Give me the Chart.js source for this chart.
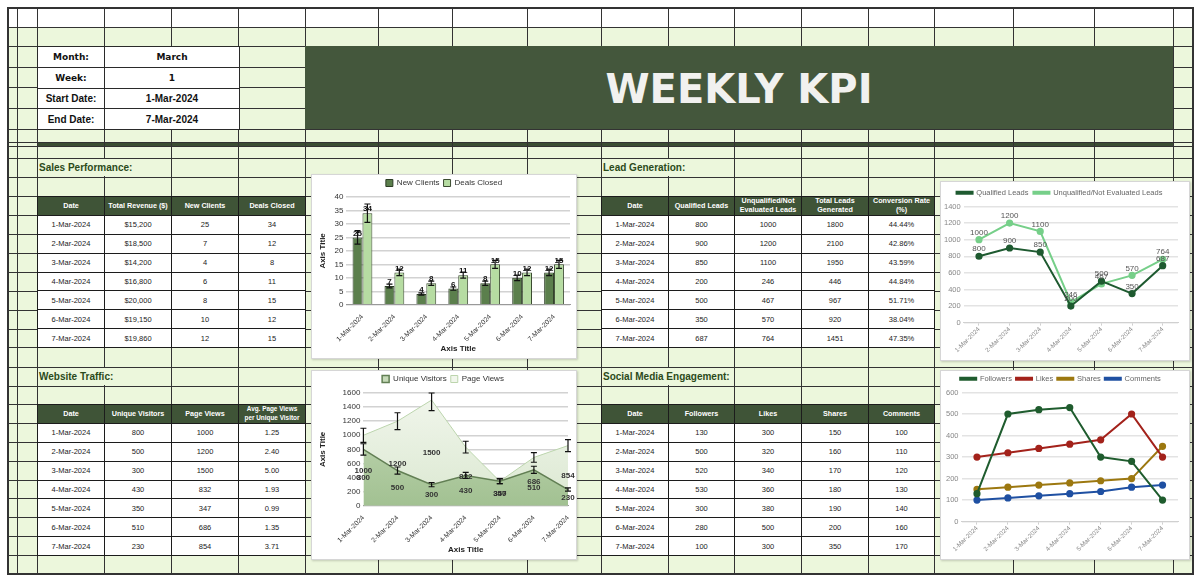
<!DOCTYPE html>
<html>
<head>
<meta charset="utf-8">
<script src="https://cdn.jsdelivr.net/npm/chart.js@4.4.1/dist/chart.umd.min.js"></script>
<style>
body { margin:0; background:#fff; font-family:"Liberation Sans", Arial, sans-serif; }
#sheet { position:absolute; left:0; top:0; width:1200px; height:582px; overflow:hidden; }
.ln { position:absolute; background:#333; }
.sect { position:absolute; background:#ecf7dc; color:#2b4a1a; font-weight:bold; font-size:10px; line-height:17px; padding-left:1px; white-space:nowrap; }
table.kpi { position:absolute; border-collapse:collapse; table-layout:fixed; }
table.kpi td { border:1.5px solid #1c1c1c; background:#fff; text-align:center; padding:0; font-size:7.5px; color:#222; height:17px; }
table.kpi th { border:1.5px solid #1c1c1c; background:#3f5437; color:#fff; text-align:center; padding:0; font-size:7.2px; font-weight:bold; height:17px; line-height:8.5px; }
table.info { position:absolute; border-collapse:collapse; table-layout:fixed; }
table.info td { border:1.5px solid #2a2a2a; background:#fff; text-align:center; padding:0; height:19px; font-size:10px; font-weight:bold; color:#111; }
td.heavy { font-family:"DejaVu Sans", sans-serif; font-size:9px !important; }
.chartbox { position:absolute; background:#fff; border:1px solid #d6d6d6; box-shadow:1px 1px 2px rgba(0,0,0,0.18); }
.chartbox canvas { position:absolute; left:0; top:0; }
#banner { position:absolute; left:305px; top:46px; width:868px; height:83px; background:#44573c; color:#f1f1ef; font-family:"DejaVu Sans", sans-serif; font-weight:bold; font-size:40px; text-align:center; line-height:87px; }
</style>
</head>
<body>
<div id="sheet">
  <div id="grid"></div>
  <div id="banner">WEEKLY KPI</div>
  <div class="sect" style="left:38px;top:159px;width:132px;height:17px;">Sales Performance:</div>
  <div class="sect" style="left:602px;top:159px;width:131px;height:17px;">Lead Generation:</div>
  <div class="sect" style="left:38px;top:368px;width:132px;height:17px;">Website Traffic:</div>
  <div class="sect" style="left:602px;top:368px;width:131px;height:17px;">Social Media Engagement:</div>
  <div id="tables"></div>
  <div class="chartbox" style="left:311px;top:174px;width:264px;height:183px;"><canvas id="salesChart" width="264" height="183"></canvas></div>
  <div class="chartbox" style="left:311px;top:370px;width:264px;height:188px;"><canvas id="trafficChart" width="264" height="188"></canvas></div>
  <div class="chartbox" style="left:940px;top:181px;width:248px;height:178px;"><canvas id="leadChart" width="248" height="178"></canvas></div>
  <div class="chartbox" style="left:940px;top:370px;width:248px;height:188px;"><canvas id="socialChart" width="248" height="188"></canvas></div>
</div>

<script>
// data
const dates = ["1-Mar-2024", "2-Mar-2024", "3-Mar-2024", "4-Mar-2024", "5-Mar-2024", "6-Mar-2024", "7-Mar-2024"];
const revenue = ["$15,200", "$18,500", "$14,200", "$16,800", "$20,000", "$19,150", "$19,860"];
const newClients = [25, 7, 4, 6, 8, 10, 12];
const dealsClosed = [34, 12, 8, 11, 15, 12, 15];
const qualifiedLeads = [800, 900, 850, 200, 500, 350, 687];
const unqualifiedLeads = [1000, 1200, 1100, 246, 467, 570, 764];
const totalLeads = [1800, 2100, 1950, 446, 967, 920, 1451];
const convRate = ["44.44%", "42.86%", "43.59%", "44.84%", "51.71%", "38.04%", "47.35%"];
const uniqueVisitors = [800, 500, 300, 430, 350, 510, 230];
const pageViews = [1000, 1200, 1500, 832, 347, 686, 854];
const avgViews = ["1.25", "2.40", "5.00", "1.93", "0.99", "1.35", "3.71"];
const followers = [130, 500, 520, 530, 300, 280, 100];
const likes = [300, 320, 340, 360, 380, 500, 300];
const shares = [150, 160, 170, 180, 190, 200, 350];
const comments = [100, 110, 120, 130, 140, 160, 170];

// sheet layout (pixel edges of the cells)
const colX = [7, 17, 37, 104, 171, 238, 305, 378, 452, 527, 601, 668, 734, 801, 868, 934, 1013, 1094, 1173, 1192];
const rowY = [7, 27, 46, 67, 87, 108, 129, 142, 146, 158, 177, 196, 215, 234, 253, 272, 291, 310, 329, 347, 367, 386, 404, 423, 442, 461, 480, 498, 517, 536, 555, 573];

function el(tag, css, html) {
    var d = document.createElement(tag);
    if (css) d.style.cssText = css;
    if (html !== undefined) d.innerHTML = html;
    return d;
}

//draw the spreadsheet grid
var grid = document.getElementById("grid");
var L = colX[0], R = colX[colX.length - 1], T = rowY[0], B = rowY[rowY.length - 1];
grid.appendChild(el("div", `position:absolute;left:${L}px;top:${rowY[1]}px;width:${R - L}px;height:${B - rowY[1]}px;background:#ecf7dc;`));
grid.appendChild(el("div", `position:absolute;left:${colX[2]}px;top:${rowY[7]}px;width:${colX[18] - colX[2]}px;height:${rowY[8] - rowY[7]}px;background:#3b4d33;`));
rowY.forEach((y, i) => {
    var w = (i == 0 || i == rowY.length - 1) ? 2 : 1;
    grid.appendChild(el("div", `left:${L}px;top:${y}px;width:${R - L + 1}px;height:${w}px;`)).className = "ln";
});
colX.forEach((x, i) => {
    var w = (i == 0 || i == colX.length - 1) ? 2 : 1;
    grid.appendChild(el("div", `left:${x}px;top:${T}px;width:${w}px;height:${B - T + 2}px;`)).className = "ln";
});

// info box + tables
var tables = document.getElementById("tables");
var info = el("table", "left:37px;top:46px;width:202px;height:84px;");
info.className = "info";
info.innerHTML = `<colgroup><col style="width:67px"><col style="width:135px"></colgroup>
<tr><td class="heavy">Month:</td><td class="heavy">March</td></tr>
<tr><td class="heavy">Week:</td><td class="heavy">1</td></tr>
<tr><td>Start Date:</td><td>${dates[0]}</td></tr>
<tr><td>End Date:</td><td>${dates[6]}</td></tr>`;
tables.appendChild(info);

function makeTable(left, top, widths, headers, cols) {
    var t = el("table", `left:${left}px;top:${top}px;width:${widths.reduce((a, b) => a + b, 0) + 1}px;height:152px;`);
    t.className = "kpi";
    var h = "<colgroup>" + widths.map(w => `<col style="width:${w}px">`).join("") + "</colgroup>";
    h += "<tr>" + headers.map(x => `<th>${x}</th>`).join("") + "</tr>";
    for (var i = 0; i < dates.length; i++) {
        h += "<tr>" + cols.map(c => `<td>${c[i]}</td>`).join("") + "</tr>";
    }
    t.innerHTML = h;
    tables.appendChild(t);
}
makeTable(37, 196, [67, 67, 67, 67], ["Date", "Total Revenue ($)", "New Clients", "Deals Closed"], [dates, revenue, newClients, dealsClosed]);
makeTable(601, 196, [67, 66, 67, 67, 66], ["Date", "Qualified Leads", "Unqualified/Not<br>Evaluated Leads", "Total Leads<br>Generated", "Conversion Rate<br>(%)"], [dates, qualifiedLeads, unqualifiedLeads, totalLeads, convRate]);
makeTable(37, 404, [67, 67, 67, 67], ["Date", "Unique Visitors", "Page Views", "<span style='font-size:6.4px'>Avg. Page Views<br>per Unique Visitor</span>"], [dates, uniqueVisitors, pageViews, avgViews]);
makeTable(601, 404, [67, 66, 67, 67, 66], ["Date", "Followers", "Likes", "Shares", "Comments"], [dates, followers, likes, shares, comments]);

// charts
Chart.defaults.font.family = '"Liberation Sans", Arial, sans-serif';
Chart.defaults.animation = false;

// little error bars, +/- pct of the value
const errBars = {
    id: "errBars",
    afterDatasetsDraw(chart, args, opts) {
        if (!opts.pct) return;
        const ctx = chart.ctx, ys = chart.scales.y, area = chart.chartArea;
        ctx.save();
        ctx.strokeStyle = "#111";
        ctx.lineWidth = 1.2;
        chart.data.datasets.forEach((ds, di) => {
            chart.getDatasetMeta(di).data.forEach((p, i) => {
                const v = ds.data[i];
                const top = Math.max(area.top, ys.getPixelForValue(v * (1 + opts.pct)));
                const bot = ys.getPixelForValue(v * (1 - opts.pct));
                ctx.beginPath();
                ctx.moveTo(p.x, top); ctx.lineTo(p.x, bot);
                ctx.moveTo(p.x - 3, top); ctx.lineTo(p.x + 3, top);
                ctx.moveTo(p.x - 3, bot); ctx.lineTo(p.x + 3, bot);
                ctx.stroke();
            });
        });
        ctx.restore();
    }
};

// value labels (top of bar/point, or middle of the area)
const valLabels = {
    id: "valLabels",
    afterDatasetsDraw(chart, args, opts) {
        if (!opts.mode) return;
        const ctx = chart.ctx, ys = chart.scales.y;
        ctx.save();
        ctx.font = opts.font;
        ctx.fillStyle = opts.color;
        ctx.textAlign = "center";
        chart.data.datasets.forEach((ds, di) => {
            chart.getDatasetMeta(di).data.forEach((p, i) => {
                const v = ds.data[i];
                if (opts.mode == "mid") {
                    ctx.textBaseline = "middle";
                    ctx.fillText(v, p.x, ys.getPixelForValue(v / 2));
                } else {
                    ctx.textBaseline = "bottom";
                    ctx.fillText(v, p.x, p.y - opts.gap);
                }
            });
        });
        ctx.restore();
    }
};

const axisTitle = { display: true, text: "Axis Title", color: "#222", font: { size: 8, weight: "bold" } };
const plain = v => v;

new Chart(document.getElementById("salesChart"), {
    type: "bar",
    data: {
        labels: dates,
        datasets: [
            { label: "New Clients", data: newClients, backgroundColor: "#5b7f4c", borderColor: "#2c3c25", borderWidth: 1 },
            { label: "Deals Closed", data: dealsClosed, backgroundColor: "#b6dca2", borderColor: "#3b4b31", borderWidth: 1 }
        ]
    },
    plugins: [valLabels, errBars],
    options: {
        responsive: false, devicePixelRatio: 1,
        categoryPercentage: 0.62, barPercentage: 1,
        layout: { padding: { left: 6, right: 6, top: 0, bottom: 4 } },
        plugins: {
            legend: { labels: { boxWidth: 7, boxHeight: 7, padding: 4, font: { size: 8 }, color: "#333" } },
            tooltip: { enabled: false },
            valLabels: { mode: "top", gap: 0, font: 'bold 8px "Liberation Sans"', color: "#111" },
            errBars: { pct: 0.1 }
        },
        scales: {
            x: {
                grid: { display: false }, border: { color: "#999" },
                ticks: { minRotation: 45, maxRotation: 45, padding: 0, font: { size: 6.8 }, color: "#333" },
                title: Object.assign({ padding: { top: 1, bottom: 0 } }, axisTitle)
            },
            y: {
                min: 0, max: 40,
                ticks: { stepSize: 5, font: { size: 8 }, color: "#333", padding: 3, callback: plain },
                grid: { color: "#d2d2d2", lineWidth: 1.5, drawTicks: false },
                border: { display: false },
                title: Object.assign({ padding: { top: 0, bottom: 4 } }, axisTitle)
            }
        }
    }
});

function vGrad(c, top, bottom) {
    const a = c.chart.chartArea;
    if (!a) return bottom;
    const g = c.chart.ctx.createLinearGradient(0, a.top, 0, a.bottom);
    g.addColorStop(0, top);
    g.addColorStop(1, bottom);
    return g;
}

new Chart(document.getElementById("trafficChart"), {
    type: "line",
    data: {
        labels: dates,
        datasets: [
            { label: "Unique Visitors", data: uniqueVisitors, fill: "origin", borderColor: "#627f54", borderWidth: 1.5, pointRadius: 0,
              backgroundColor: c => vGrad(c, "#c6dab8", "#a2c192") },
            { label: "Page Views", data: pageViews, fill: "origin", borderColor: "#bcd5ad", borderWidth: 1, pointRadius: 0,
              backgroundColor: c => vGrad(c, "#f1f6ec", "#dbe8d1") }
        ]
    },
    plugins: [valLabels, errBars],
    options: {
        responsive: false, devicePixelRatio: 1,
        layout: { padding: { left: 6, right: 8, top: 0, bottom: 4 } },
        plugins: {
            legend: { labels: { boxWidth: 7, boxHeight: 7, padding: 4, font: { size: 8 }, color: "#333" } },
            tooltip: { enabled: false },
            valLabels: { mode: "mid", font: 'bold 8px "Liberation Sans"', color: "#333" },
            errBars: { pct: 0.1 }
        },
        scales: {
            x: {
                offset: false,
                grid: { display: false }, border: { color: "#999" },
                ticks: { minRotation: 45, maxRotation: 45, padding: 0, font: { size: 6.8 }, color: "#333" },
                title: Object.assign({ padding: { top: 1, bottom: 0 } }, axisTitle)
            },
            y: {
                min: 0, max: 1600,
                ticks: { stepSize: 200, font: { size: 8 }, color: "#333", padding: 3, callback: plain },
                grid: { color: "#d2d2d2", lineWidth: 1.5, drawTicks: false },
                border: { display: false },
                title: Object.assign({ padding: { top: 0, bottom: 12 } }, axisTitle)
            }
        }
    }
});

function lineSet(label, data, color) {
    return { label: label, data: data, borderColor: color, backgroundColor: color, borderWidth: 2, pointRadius: 2.6, tension: 0 };
}

const grayScales = (max, step) => ({
    x: {
        offset: true,
        grid: { display: true, drawOnChartArea: false, tickLength: 3, color: "#d0d0d0" },
        border: { color: "#d0d0d0" },
        ticks: { minRotation: 45, maxRotation: 45, padding: 0, font: { size: 6.3 }, color: "#888" }
    },
    y: {
        min: 0, max: max,
        ticks: { stepSize: step, font: { size: 7.5 }, color: "#888", padding: 3, callback: plain },
        grid: { color: "#e3e3e3", lineWidth: 1.5, drawTicks: false },
        border: { display: false }
    }
});

new Chart(document.getElementById("leadChart"), {
    type: "line",
    data: {
        labels: dates,
        datasets: [
            lineSet("Qualified Leads", qualifiedLeads, "#1e5a30"),
            lineSet("Unqualified/Not Evaluated Leads", unqualifiedLeads, "#76cf89")
        ]
    },
    plugins: [valLabels],
    options: {
        responsive: false, devicePixelRatio: 1,
        layout: { padding: { left: 0, right: 11, top: 2, bottom: 6 } },
        plugins: {
            legend: { labels: { boxWidth: 16, boxHeight: 2, padding: 5, font: { size: 7.5 }, color: "#666" } },
            tooltip: { enabled: false },
            valLabels: { mode: "top", gap: 3, font: '8px "Liberation Sans"', color: "#555" }
        },
        scales: grayScales(1400, 200)
    }
});

new Chart(document.getElementById("socialChart"), {
    type: "line",
    data: {
        labels: dates,
        datasets: [
            lineSet("Followers", followers, "#1f5c2e"),
            lineSet("Likes", likes, "#a3221b"),
            lineSet("Shares", shares, "#9c7810"),
            lineSet("Comments", comments, "#1f50a2")
        ]
    },
    options: {
        responsive: false, devicePixelRatio: 1,
        layout: { padding: { left: 2, right: 11, top: 0, bottom: 6 } },
        plugins: {
            legend: { labels: { boxWidth: 16, boxHeight: 2, padding: 4, font: { size: 7.5 }, color: "#666" } },
            tooltip: { enabled: false }
        },
        scales: grayScales(600, 100)
    }
});
</script>
</body>
</html>
